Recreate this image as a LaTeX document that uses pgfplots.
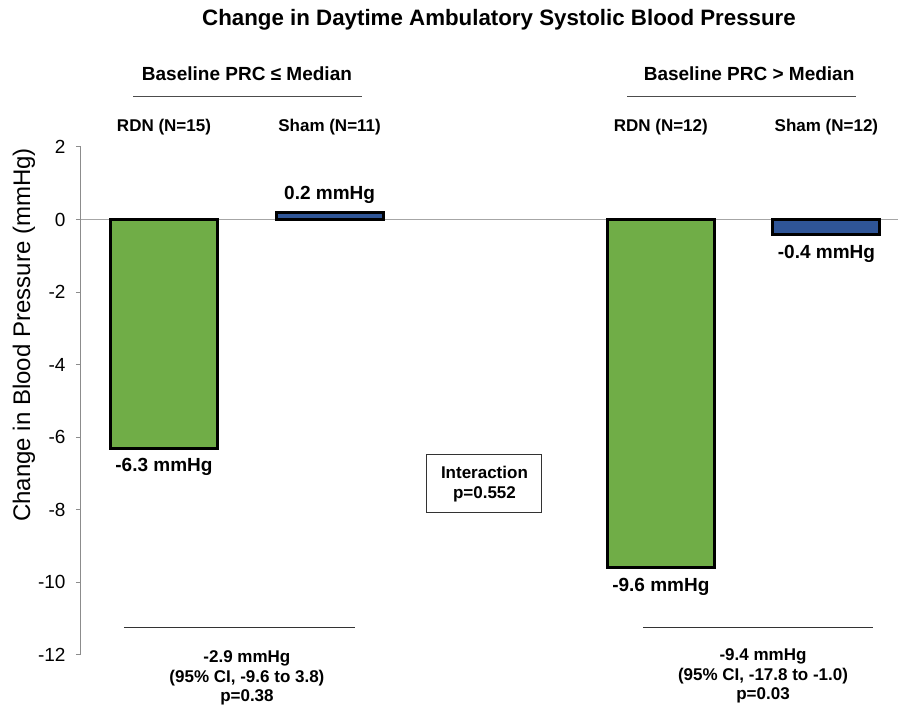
\documentclass[border=0pt]{standalone}
\usepackage{fontspec}
\setmainfont{Liberation Sans}
\usepackage{pgfplots}
\pgfplotsset{compat=1.18}
\definecolor{rdngreen}{HTML}{70AD47}
\definecolor{shamblue}{HTML}{2F5597}
\definecolor{axgray}{HTML}{8C8C8C}
\definecolor{zerogray}{HTML}{A6A6A6}
\newcommand{\fs}[1]{\fontsize{#1bp}{1.15\dimexpr #1bp\relax}\selectfont}
\begin{document}
\begin{tikzpicture}
\begin{axis}[
  scale only axis,
  width=817bp, height=508bp,
  xmin=-0.501, xmax=4.432,
  ymin=-12, ymax=2,
  axis x line=none,
  axis y line*=left,
  y axis line style={axgray, line width=1bp},
  ytick={-12,-10,-8,-6,-4,-2,0,2},
  tick align=outside,
  major tick length=5bp,
  ytick style={axgray, line width=1bp},
  yticklabel style={font=\fs{19}, text=black, xshift=-7bp},
  /pgf/number format/assume math mode=true,
  clip=false,
]
\draw[zerogray, line width=1.5bp] (axis cs:-0.501,0) -- (axis cs:4.432,0);
\addplot[ybar, bar width=107bp, bar shift=0pt, fill=rdngreen, draw=black, line width=3bp]
  coordinates {(0,-6.3) (3,-9.6)};
\addplot[ybar, bar width=107bp, bar shift=0pt, fill=shamblue, draw=black, line width=3bp]
  coordinates {(1,0.2) (4,-0.4)};

% annotations
\node[font=\fs{22.3}\bfseries] at (axis cs:2.023,5.497) {Change in Daytime Ambulatory Systolic Blood Pressure};
\node[font=\fs{19}\bfseries] at (axis cs:0.501,4.01) {Baseline PRC ≤ Median};
\node[font=\fs{19}\bfseries] at (axis cs:3.533,4.01) {Baseline PRC > Median};
\draw[black!70, line width=1bp] (axis cs:-0.187,3.376) -- (axis cs:1.196,3.376);
\draw[black!70, line width=1bp] (axis cs:2.796,3.376) -- (axis cs:4.179,3.376);
\node[font=\fs{17}\bfseries] at (axis cs:0,2.549) {RDN (N=15)};
\node[font=\fs{17}\bfseries] at (axis cs:1,2.549) {Sham (N=11)};
\node[font=\fs{17}\bfseries] at (axis cs:3,2.549) {RDN (N=12)};
\node[font=\fs{17}\bfseries] at (axis cs:4,2.549) {Sham (N=12)};
\node[font=\fs{19}\bfseries] at (axis cs:1,0.675) {0.2 mmHg};
\node[font=\fs{19}\bfseries] at (axis cs:0,-6.82) {-6.3 mmHg};
\node[font=\fs{19}\bfseries] at (axis cs:4,-0.95) {-0.4 mmHg};
\node[font=\fs{19}\bfseries] at (axis cs:3,-10.127) {-9.6 mmHg};
\draw[black!80, line width=1bp] (axis cs:-0.242,-11.256) -- (axis cs:1.153,-11.256);
\draw[black!80, line width=1bp] (axis cs:2.893,-11.256) -- (axis cs:4.281,-11.256);
\node[font=\fs{17}\bfseries, align=center, inner sep=0pt] at (axis cs:0.501,-12.64)
  {-2.9 mmHg\\(95\% CI, -9.6 to 3.8)\\p=0.38};
\node[font=\fs{17}\bfseries, align=center, inner sep=0pt] at (axis cs:3.617,-12.58)
  {-9.4 mmHg\\(95\% CI, -17.8 to -1.0)\\p=0.03};
\node[font=\fs{17}\bfseries, align=center, draw=black!80, line width=1bp,
  minimum width=115bp, minimum height=58bp, inner sep=2bp] at (axis cs:1.935,-7.289)
  {Interaction\\p=0.552};
\node[font=\fs{24}, rotate=90] at (axis cs:-0.845,-3.183) {Change in Blood Pressure (mmHg)};
\coordinate (bl) at (axis cs:-0.501,-13.433);
\coordinate (tr) at (axis cs:4.432,6.049);
\end{axis}
\pgfresetboundingbox
\useasboundingbox ([xshift=-81bp]bl) rectangle (tr);
\end{tikzpicture}
\end{document}
